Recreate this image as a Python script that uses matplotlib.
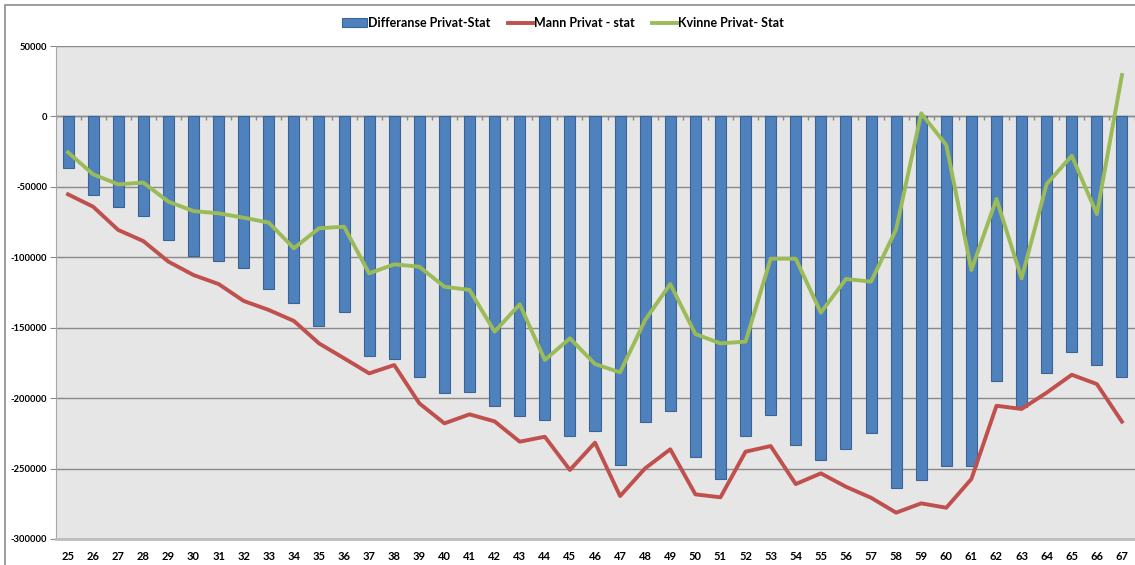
import matplotlib
matplotlib.use('Agg')
import matplotlib.pyplot as plt
import numpy as np
from matplotlib.patches import Rectangle

plt.rcParams['font.family'] = ['Lato', 'DejaVu Sans']
plt.rcParams['font.weight'] = 'bold'

# data
ages = list(range(25, 68))
diff_total = [-36400, -56000, -64100, -70900, -87700, -99100, -102900, -107900, -122700, -132200,
              -149000, -138900, -169900, -172000, -185200, -196400, -195900, -205400, -212900, -215800,
              -227100, -223100, -247700, -217200, -209200, -242000, -257200, -227100, -212200, -233500,
              -243900, -235900, -224800, -264000, -257900, -248400, -248000, -188100, -206300, -182200,
              -167500, -176700, -185200]
mann = [-55300, -64100, -80600, -88500, -103100, -112600, -119000, -131000, -137400, -145200,
        -161100, -171700, -182400, -176500, -203700, -217900, -211500, -216500, -230900, -227400,
        -251000, -231600, -269500, -249800, -236300, -268300, -270400, -238000, -234000, -261000,
        -253400, -262900, -270700, -281300, -274700, -277800, -257400, -205400, -207700, -196100,
        -183400, -190000, -216700]
kvinne = [-25500, -41100, -48200, -47000, -60500, -67200, -68800, -71900, -75400, -93600,
          -79400, -78300, -111400, -105000, -106700, -120900, -123200, -152800, -133400, -172900,
          -157500, -175800, -181700, -144500, -119000, -154500, -161100, -159900, -101000, -101000,
          -139300, -115400, -117300, -80200, 2200, -20300, -109000, -58600, -115000, -48000,
          -27900, -69300, 29400]
yticks = list(range(-300000, 50001, 50000))

W, H = 1135, 565
fig = plt.figure(figsize=(W / 100, H / 100), dpi=100)
fig.patches.append(Rectangle((5 / W, -0.1), 1.2, 1 - 5 / H + 0.1, transform=fig.transFigure,
                             fill=False, edgecolor='#8c8c8c', linewidth=1.2))

ax = fig.add_axes([55.5 / W, 1 - 539 / H, 1079 / W, (539 - 46) / H])
ax.set_facecolor('#e6e6e6')
x = np.arange(len(ages))

bars = ax.bar(x, diff_total, width=0.44, color='#4f81bd', edgecolor='#3b6496', linewidth=0.8,
              label='Differanse Privat-Stat', zorder=3)
l1, = ax.plot(x, mann, color='#c0504d', linewidth=2.8, label='Mann Privat - stat', zorder=4)
l2, = ax.plot(x, kvinne, color='#9bbb59', linewidth=2.8, label='Kvinne Privat- Stat', zorder=5)

ax.set_xlim(-0.5, len(ages) - 0.5)
ax.set_ylim(-300000, 50000)
ax.set_yticks(yticks)
ax.set_yticklabels([str(v) for v in yticks], fontsize=6.8, fontweight='bold')
ax.set_xticks(x)
ax.set_xticklabels([str(a) for a in ages], fontsize=8, fontweight='bold')
ax.tick_params(axis='x', length=0, pad=9)
ax.tick_params(axis='y', length=4, color='#8c8c8c', pad=2)
ax.grid(axis='y', color='#8a8a8a', linewidth=1.0, zorder=1)
ax.axhline(0, color='#8a8a8a', linewidth=1.0, zorder=2)
ax.vlines(np.arange(len(ages) + 1) - 0.5, -2500, 0, color='#8a8a8a', linewidth=1.0, zorder=2)

for side in ['top', 'right']:
    ax.spines[side].set_visible(False)
ax.spines['left'].set_color('#a6a6a6')
ax.spines['bottom'].set_color('#bdbdbd')
ax.spines['bottom'].set_linewidth(2)

fig.legend(handles=[bars, l1, l2], loc='center', bbox_to_anchor=(563 / W, 1 - 23 / H), ncol=3,
           frameon=False, prop={'size': 9, 'weight': 'bold'}, handlelength=2.0,
           handletextpad=0.1, columnspacing=1.4)

fig.savefig('out.png', dpi=100)
